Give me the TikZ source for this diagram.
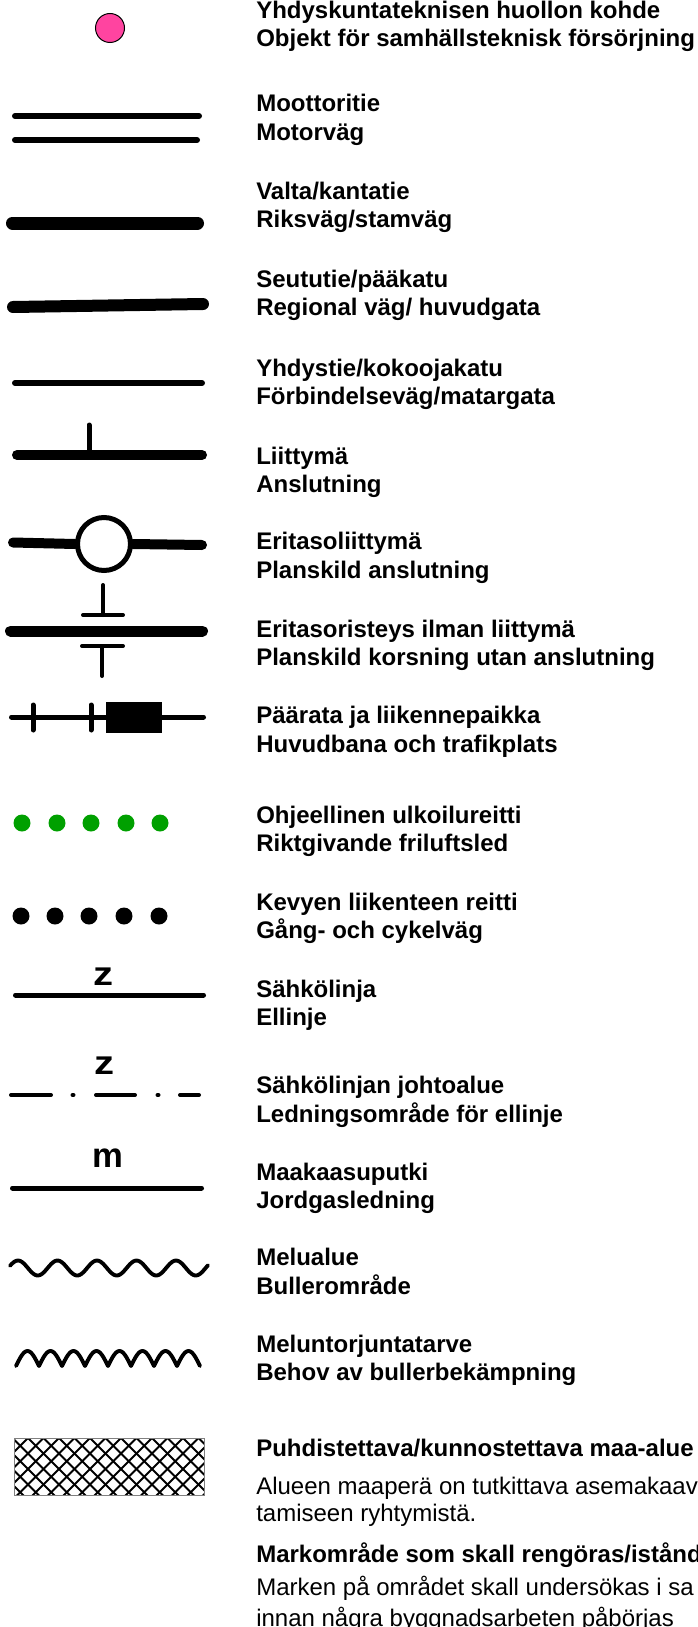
\documentclass[tikz,border=0pt]{standalone}
\usepackage{fontspec}
\setmainfont{Liberation Sans}
\definecolor{pinkfill}{RGB}{255,68,160}
\definecolor{trailgreen}{RGB}{0,160,0}
\begin{document}
\begin{tikzpicture}[x=0.75pt,y=-0.75pt,
  lab/.style={anchor=base west, inner sep=0pt, font=\bfseries\fontsize{18}{21}\selectfont},
  txt/.style={anchor=base west, inner sep=0pt, font=\fontsize{18}{21}\selectfont},
  zletter/.style={anchor=base, inner sep=0pt, font=\bfseries\fontsize{25}{27}\selectfont},
  mletter/.style={anchor=base, inner sep=0pt, font=\bfseries\fontsize{26}{28}\selectfont},
  road/.style={line cap=round, black},
  dot/.style={circle, inner sep=0pt, minimum size=12.75pt}]
\useasboundingbox (0,0) rectangle (697,1627);

% ---------- labels ----------
\node[lab] (t1a) at (256,19) {Yhdyskuntateknisen huollon kohde};
\node[lab] (t1b) at (256,47) {Objekt för samhällsteknisk försörjning};
\node[lab] (t2a) at (256,112) {Moottoritie};
\node[lab] (t2b) at (256,140) {Motorväg};
\node[lab] (t3a) at (256,199) {Valta/kantatie};
\node[lab] (t3b) at (256,227) {Riksväg/stamväg};
\node[lab] (t4a) at (256,287) {Seututie/pääkatu};
\node[lab] (t4b) at (256,315) {Regional väg/ huvudgata};
\node[lab] (t5a) at (256,376) {Yhdystie/kokoojakatu};
\node[lab] (t5b) at (256,404) {Förbindelseväg/matargata};
\node[lab] (t6a) at (256,464) {Liittymä};
\node[lab] (t6b) at (256,492) {Anslutning};
\node[lab] (t7a) at (256,549) {Eritasoliittymä};
\node[lab] (t7b) at (256,578) {Planskild anslutning};
\node[lab] (t8a) at (256,637) {Eritasoristeys ilman liittymä};
\node[lab] (t8b) at (256,665) {Planskild korsning utan anslutning};
\node[lab] (t9a) at (256,723) {Päärata ja liikennepaikka};
\node[lab] (t9b) at (256,752) {Huvudbana och trafikplats};
\node[lab] (t10a) at (256,823) {Ohjeellinen ulkoilureitti};
\node[lab] (t10b) at (256,851) {Riktgivande friluftsled};
\node[lab] (t11a) at (256,910) {Kevyen liikenteen reitti};
\node[lab] (t11b) at (256,938) {Gång- och cykelväg};
\node[lab] (t12a) at (256,997) {Sähkölinja};
\node[lab] (t12b) at (256,1025) {Ellinje};
\node[lab] (t13a) at (256,1093) {Sähkölinjan johtoalue};
\node[lab] (t13b) at (256,1122) {Ledningsområde för ellinje};
\node[lab] (t14a) at (256,1180) {Maakaasuputki};
\node[lab] (t14b) at (256,1208) {Jordgasledning};
\node[lab] (t15a) at (256,1265) {Melualue};
\node[lab] (t15b) at (256,1294) {Bullerområde};
\node[lab] (t16a) at (256,1352) {Meluntorjuntatarve};
\node[lab] (t16b) at (256,1380) {Behov av bullerbekämpning};
\node[lab] (t17a) at (256,1456) {Puhdistettava/kunnostettava maa-alue};
\node[txt] (t17b) at (256,1494) {Alueen maaperä on tutkittava asemakaav};
\node[txt] (t17c) at (256,1521) {tamiseen ryhtymistä.};
\node[lab] (t17d) at (256,1562) {Markområde som skall rengöras/istånd};
\node[txt] (t17e) at (256,1595) {Marken på området skall undersökas i sa};
\node[txt] (t17f) at (256,1626) {innan några byggnadsarbeten påbörjas};

% ---------- 1 community object ----------
\node[circle, draw=black, line width=0.75pt, fill=pinkfill, inner sep=0pt, minimum size=21.75pt] (obj) at (110,28) {};

% ---------- 2 motorway ----------
\draw[road, line width=4.5pt] (15,116) -- (199,116);
\draw[road, line width=4.5pt] (15,140) -- (197,140);

% ---------- 3 main road ----------
\draw[road, line width=9.75pt] (12.5,223) -- (197.5,223);

% ---------- 4 regional road ----------
\draw[road, line width=9pt] (13,307) -- (203,304);

% ---------- 5 connecting road ----------
\draw[road, line width=4.5pt] (15,383) -- (202,383);

% ---------- 6 junction ----------
\draw[road, line width=7.5pt] (17,455) -- (202,455);
\draw[road, line width=3.75pt] (89,425) -- (89,455);

% ---------- 7 interchange ----------
\node[circle, draw=black, line width=3.75pt, inner sep=0pt, minimum size=39.75pt] (ic) at (104,544) {};
\draw[road, line width=7.5pt] (13,542.5) -- (ic.west);
\draw[road, line width=7.5pt] (ic.east) -- (202,545);

% ---------- 8 crossing without junction ----------
\draw[road, line width=8.25pt] (10.5,631) -- (202.5,631);
\draw[road, line width=3pt] (103,585) -- (103,615);
\draw[road, line width=3pt] (83,615) -- (123,615);
\draw[road, line width=3pt] (82,646) -- (123,646);
\draw[road, line width=3pt] (102,646) -- (102,676);

% ---------- 9 railway ----------
\draw[road, line width=3.75pt] (11.5,717) -- (203.5,717);
\draw[road, line width=3.75pt] (33,705) -- (33,730);
\draw[road, line width=3.75pt] (91,705) -- (91,730);
\fill[black] (106,702) rectangle (162,733);

% ---------- 10 outdoor trail ----------
\foreach \i/\xx in {1/22,2/57,3/91,4/126,5/160}
  \node[dot, fill=trailgreen] (g\i) at (\xx,823) {};

% ---------- 11 pedestrian route ----------
\foreach \i/\xx in {1/21,2/55,3/89,4/124,5/159}
  \node[dot, fill=black] (b\i) at (\xx,916) {};

% ---------- 12 power line ----------
\node[zletter] (z1) at (103,985) {\scalebox{1.2}[1]{z}};
\draw[road, line width=3.75pt] (15.5,995) -- (203.5,995);

% ---------- 13 power line corridor ----------
\node[zletter] (z2) at (104,1074) {\scalebox{1.2}[1]{z}};
\draw[road, line width=3pt] (11,1095) -- (51,1095);
\draw[road, line width=3pt] (72.5,1095) -- (73.5,1095);
\draw[road, line width=3pt] (96,1095) -- (135,1095);
\draw[road, line width=3pt] (157.5,1095) -- (158.5,1095);
\draw[road, line width=3pt] (180,1095) -- (199,1095);

% ---------- 14 gas pipeline ----------
\node[mletter] (m1) at (108,1167) {m};
\draw[road, line width=3.75pt] (12.5,1188) -- (201.5,1188);

% ---------- 15 noise area ----------
\begin{scope}[shift={(0,1268)}]
  \draw[line width=2.9pt, line cap=round, line join=round] plot[domain=10:208, samples=120]
    (\x,{-7.5*cos(9.1139*(\x-18))});
\end{scope}

% ---------- 16 noise abatement ----------
\begin{scope}[shift={(16,1366)}]
  \draw[line width=2.9pt, line cap=round, line join=round] plot[domain=0:184, samples=185]
    (\x,{-15*abs(sin(7.8261*\x))});
\end{scope}

% ---------- 17 contaminated soil ----------
\begin{scope}
  \clip (14,1438) rectangle (204,1495);
  \foreach \k in {-6,...,16} {
    \draw[line width=1.4pt] (28+\k*15.5,1438) -- ++(70,70);
    \draw[line width=1.4pt] (28+\k*15.5,1438) -- ++(-70,70);
  }
\end{scope}
\draw[gray, line width=0.75pt] (14,1438) rectangle (204,1495);
\end{tikzpicture}
\end{document}
